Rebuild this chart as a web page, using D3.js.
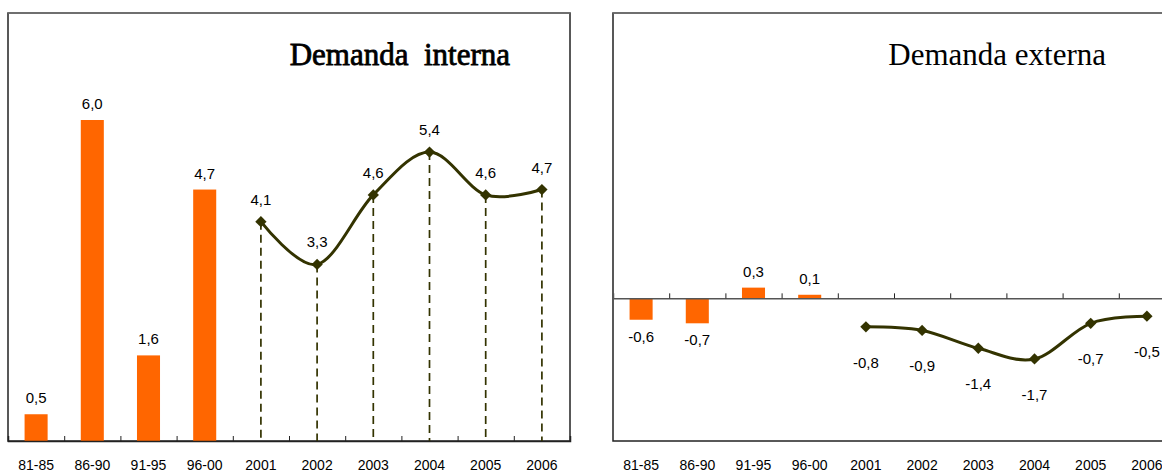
<!DOCTYPE html>
<html>
<head>
<meta charset="utf-8">
<script src="https://cdn.jsdelivr.net/npm/d3@7"></script>
<style>
  html, body { margin: 0; padding: 0; background: #fff; }
  svg { display: block; }
  .val { font-family: "Liberation Sans", Arial, sans-serif; font-size: 15px; fill: #000; }
  .cat text { font-family: "Liberation Sans", Arial, sans-serif; font-size: 14px; fill: #000; }
  .title { font-family: "Liberation Serif", "Times New Roman", serif; fill: #000; white-space: pre; }
</style>
</head>
<body>
<div id="chart"></div>
<script>
(function () {

    var categories = ['81-85', '86-90', '91-95', '96-00', '2001', '2002', '2003', '2004', '2005', '2006'];
    var periods = ['81-85', '86-90', '91-95', '96-00'];
    var years = ['2001', '2002', '2003', '2004', '2005', '2006'];

    var internaBars = [0.5, 6.0, 1.6, 4.7];
    var internaLine = [4.1, 3.3, 4.6, 5.4, 4.6, 4.7];
    var externaBars = [-0.6, -0.7, 0.3, 0.1];
    var externaLine = [-0.8, -0.9, -1.4, -1.7, -0.7, -0.5];

    var w = 1162;
    var h = 473;
    var orange = '#FF6600';
    var olive = '#333300';

    var locale = d3.formatLocale({ decimal: ',', thousands: '.', grouping: [3], currency: ['', ''], minus: '-' });
    var fmt = locale.format('.1f');

    var svg = d3.select('#chart')
        .append('svg')
            .attr('width', w)
            .attr('height', h);

    function panel(opt) {
        var g = svg.append('g');
        var x = d3.scaleBand().domain(categories).range([opt.x0, opt.x1]);
        var bounds = d3.scaleLinear().domain([0, categories.length]).range([opt.x0, opt.x1]);
        var y = d3.scaleLinear().domain(opt.yDomain).range([441, 13]);
        var barW = x.bandwidth() * 0.41;

        // frame
        g.append('rect')
            .attr('x', opt.x0)
            .attr('y', 13)
            .attr('width', opt.x1 - opt.x0)
            .attr('height', 428)
            .attr('fill', 'none')
            .attr('stroke', '#222')
            .attr('stroke-width', 1.5);
        g.append('line')
            .attr('x1', opt.x0).attr('x2', opt.x1)
            .attr('y1', 13).attr('y2', 13)
            .attr('stroke', '#777')
            .attr('stroke-width', 1.5);

        // bars
        var bars = periods.map(function (p, i) { return { c: p, v: opt.bars[i] }; });
        g.selectAll('rect.bar')
            .data(bars)
            .enter()
            .append('rect')
                .attr('class', 'bar')
                .attr('x', function (d) { return x(d.c) + (x.bandwidth() - barW) / 2; })
                .attr('y', function (d) { return y(Math.max(0, d.v)); })
                .attr('width', barW)
                .attr('height', function (d) { return Math.abs(y(d.v) - y(0)); })
                .attr('fill', orange);

        g.selectAll('text.barlab')
            .data(bars)
            .enter()
            .append('text')
                .attr('class', 'val')
                .attr('text-anchor', 'middle')
                .attr('x', function (d) { return x(d.c) + x.bandwidth() / 2; })
                .attr('y', function (d) { return d.v >= 0 ? y(d.v) - 11 : y(d.v) + 22; })
                .text(function (d) { return fmt(d.v); });

        // category axis (ticks at band boundaries)
        g.append('g')
            .attr('transform', 'translate(0,' + y(0) + ')')
            .call(d3.axisBottom(bounds).tickValues(d3.range(1, categories.length)).tickSize(-5).tickFormat(''))
            .call(function (a) {
                a.select('.domain').attr('stroke', opt.zeroColor).attr('stroke-width', 1.5);
                a.selectAll('.tick line').attr('stroke', '#222');
            });

        g.append('g')
            .attr('class', 'cat')
            .attr('transform', 'translate(0,441)')
            .call(d3.axisBottom(x).tickSize(0).tickPadding(19))
            .call(function (a) { a.select('.domain').remove(); });

        // line series
        var pts = years.map(function (yr, i) { return { c: yr, v: opt.line[i] }; });
        var cx = function (d) { return x(d.c) + x.bandwidth() / 2; };

        if (opt.drops) {
            g.selectAll('line.drop')
                .data(pts)
                .enter()
                .append('line')
                    .attr('x1', cx).attr('x2', cx)
                    .attr('y1', function (d) { return y(d.v); })
                    .attr('y2', y(0))
                    .attr('stroke', olive)
                    .attr('stroke-width', 1.7)
                    .attr('stroke-dasharray', '8,5');
        }

        g.append('path')
            .datum(pts)
            .attr('fill', 'none')
            .attr('stroke', olive)
            .attr('stroke-width', 3)
            .attr('d', d3.line().x(cx).y(function (d) { return y(d.v); }).curve(d3.curveCardinal.tension(0)));

        g.selectAll('path.mark')
            .data(pts)
            .enter()
            .append('path')
                .attr('d', d3.symbol(d3.symbolSquare, 64))
                .attr('transform', function (d) { return 'translate(' + cx(d) + ',' + y(d.v) + ') rotate(45)'; })
                .attr('fill', olive);

        g.selectAll('text.linelab')
            .data(pts)
            .enter()
            .append('text')
                .attr('class', 'val')
                .attr('text-anchor', 'middle')
                .attr('x', cx)
                .attr('y', function (d) { return opt.labelBelow ? y(d.v) + 41 : y(d.v) - 17; })
                .text(function (d) { return fmt(d.v); });

        // title
        g.append('text')
            .attr('class', 'title')
            .attr('text-anchor', 'end')
            .attr('x', opt.titleX)
            .attr('y', 65)
            .attr('font-size', 31)
            .attr('stroke', '#000')
            .attr('stroke-width', opt.titleStroke)
            .text(opt.title);
    }

    panel({
        x0: 8, x1: 570,
        yDomain: [0, 8],
        bars: internaBars,
        line: internaLine,
        drops: true,
        labelBelow: false,
        zeroColor: '#222',
        title: 'Demanda  interna',
        titleX: 510,
        titleStroke: 0.8
    });

    panel({
        x0: 613, x1: 1175,
        yDomain: [-4, 8],
        bars: externaBars,
        line: externaLine,
        drops: false,
        labelBelow: true,
        zeroColor: '#555',
        title: 'Demanda externa',
        titleX: 1106,
        titleStroke: 0
    });

})();
</script>
</body>
</html>
